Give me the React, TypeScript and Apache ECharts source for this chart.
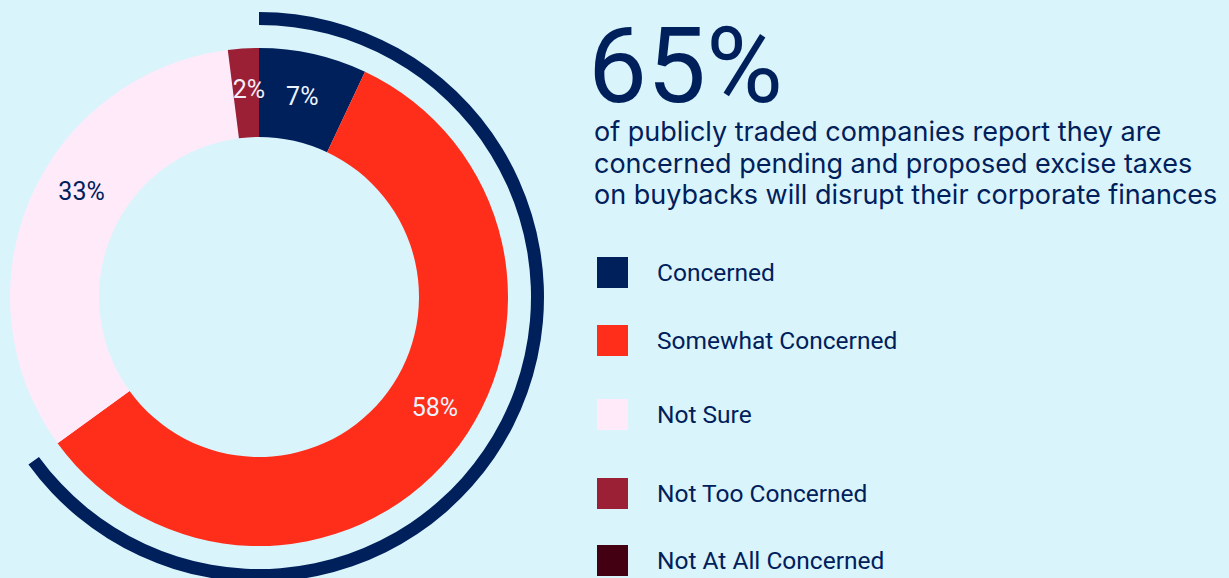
import React, { useEffect, useRef } from "react";
import * as echarts from "echarts";

const categories = [
  "Concerned",
  "Somewhat Concerned",
  "Not Sure",
  "Not Too Concerned",
  "Not At All Concerned",
];
const shares = [7, 58, 33, 2, 0];
const sliceColors = ["#00205B", "#FF2E1A", "#FFEAFA", "#9B1F35", "#430012"];
const labelColors = ["#EEF4FF", "#EEF4FF", "#00205B", "#F4EEF8", "#EEF4FF"];
// clockwise order of the slices around the ring
const ringOrder = [0, 1, 2, 4, 3];
const subtitleLines = [
  "of publicly traded companies report they are",
  "concerned pending and proposed excise taxes",
  "on buybacks will disrupt their corporate finances",
];
const legendTops = [257, 325, 399, 478, 545];

const NAVY = "#00205B";
const BG = "#DAF4FC";
// label nudges from the default in-slice position (px)
const labelNudge: Record<string, [number, number]> = {
  "Somewhat Concerned": [16, -22],
  "Not Sure": [13, -23],
  "Not Too Concerned": [3, 0],
  Concerned: [-2, 2],
};

export default function App() {
  const ref = useRef<HTMLDivElement>(null);
  useEffect(() => {
    if (!ref.current) return;
    const chart = echarts.init(ref.current, null, { renderer: "svg" });
    const concernedTotal = shares[0] + shares[1];
    const ringData = ringOrder.map((i) => ({
      name: categories[i],
      value: shares[i],
      itemStyle: { color: sliceColors[i] },
      label: {
        show: shares[i] > 0,
        color: labelColors[i],
      },
    }));
    const orderedNames = ringOrder.map((i) => categories[i]);
    const legends = categories.map((name, i) => ({
      show: true,
      data: [name],
      left: 597,
      top: legendTops[i],
      padding: 0,
      itemWidth: 31,
      itemHeight: 31,
      icon: "rect",
      selectedMode: false,
      textStyle: {
        fontFamily: "Roboto, sans-serif",
        fontSize: 24.5,
        color: NAVY,
        padding: [0, 0, 0, 24],
      },
    }));
    chart.setOption({
      animation: false,
      backgroundColor: BG,
      legend: legends,
      graphic: [
        {
          type: "text",
          left: 588,
          top: 14,
          style: {
            text: `${concernedTotal}%`,
            fontFamily: "Roboto, sans-serif",
            fontSize: 105,
            lineHeight: 86,
            fill: NAVY,
          },
        },
        ...subtitleLines.map((t, i) => ({
          type: "text",
          x: 594,
          y: 131.5 + i * 31.5,
          style: {
            text: t,
            fontFamily: "Inter, sans-serif",
            fontSize: 27,
            lineHeight: 30,
            fill: NAVY,
            textVerticalAlign: "middle",
          },
        })),
      ],
      series: [
        {
          type: "pie",
          center: [259, 297],
          radius: [160, 249],
          startAngle: 90,
          clockwise: true,
          silent: true,
          avoidLabelOverlap: false,
          itemStyle: { borderWidth: 0 },
          label: {
            position: "inside",
            formatter: (p: any) => `${p.value}%`,
            fontFamily: "Roboto, sans-serif",
            fontSize: 25,
          },
          labelLine: { show: false },
          labelLayout: (p: any) => {
            const name = orderedNames[p.dataIndex];
            const n = labelNudge[name];
            return n ? { dx: n[0], dy: n[1] } : {};
          },
          emphasis: { disabled: true },
          data: ringData,
        },
        {
          type: "pie",
          center: [259, 297],
          radius: [272, 285],
          startAngle: 90,
          clockwise: true,
          silent: true,
          label: { show: false },
          labelLine: { show: false },
          itemStyle: { borderWidth: 0 },
          emphasis: { disabled: true },
          data: [
            { name: "concerned total", value: concernedTotal, itemStyle: { color: NAVY } },
            { name: "remainder", value: 100 - concernedTotal, itemStyle: { color: "rgba(0,0,0,0)" } },
          ],
        },
      ],
    });
    return () => chart.dispose();
  }, []);
  return (
    <div
      ref={ref}
      style={{ position: "absolute", left: 0, top: 0, width: 1229, height: 578, background: BG }}
    />
  );
}
